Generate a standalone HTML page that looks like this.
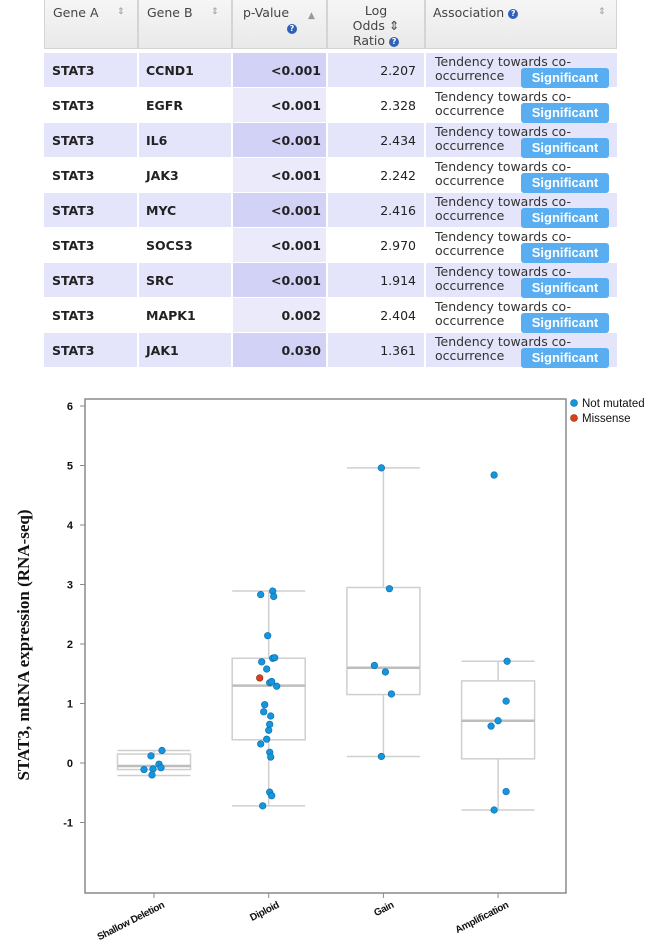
<!DOCTYPE html>
<html><head><meta charset="utf-8"><style>
body{margin:0;width:650px;height:940px;background:#fff;position:relative;overflow:hidden;font-family:"DejaVu Sans",Verdana,sans-serif;}
.c{position:absolute;box-sizing:border-box;font-size:12.5px;color:#222;}
.h{background:linear-gradient(#f6f6f6,#e9e9e9);border:1px solid #d4d4d4;color:#444;font-size:12.5px;}
.q{display:inline-block;width:10px;height:10px;border-radius:50%;background:#3060b8;color:#fff;font-size:8px;line-height:10px;text-align:center;font-weight:bold;vertical-align:middle;}
.s{color:#999;font-size:9px;position:absolute;}
.btn{position:absolute;left:95px;top:15px;width:88px;height:20px;background:#58aef0;border-radius:3px;color:#fff;font-weight:bold;font-size:13px;line-height:20px;text-align:center;font-family:"Liberation Sans",sans-serif;}
</style></head><body>
<div>
<div class="c h" style="left:44px;top:-2px;width:94px;height:51px;padding:6px 0 0 8px">Gene A<span class="s" style="left:72px;top:8px">⇕</span></div>
<div class="c h" style="left:138px;top:-2px;width:94px;height:51px;padding:6px 0 0 8px">Gene B<span class="s" style="left:72px;top:8px">⇕</span></div>
<div class="c h" style="left:232px;top:-2px;width:95px;height:51px;padding:6px 0 0 10px">p-Value<br><span class="q" style="margin-left:44px">?</span><span class="s" style="left:75px;top:12px">▲</span></div>
<div class="c h" style="left:327px;top:-2px;width:98px;height:51px;padding:4px 0 0 0;text-align:center;line-height:15px">Log<br>Odds ⇕<br>Ratio <span class="q">?</span></div>
<div class="c h" style="left:425px;top:-2px;width:192px;height:51px;padding:6px 0 0 7px">Association <span class="q">?</span><span class="s" style="left:172px;top:8px">⇕</span></div>
<div id="rows"></div>
</div>
<svg id="chart" width="650" height="940" style="position:absolute;left:0;top:0" font-family="Liberation Sans, sans-serif"></svg>
<script>
const geneB=["CCND1","EGFR","IL6","JAK3","MYC","SOCS3","SRC","MAPK1","JAK1"];
const pvals=["<0.001","<0.001","<0.001","<0.001","<0.001","<0.001","<0.001","0.002","0.030"];
const lors=["2.207","2.328","2.434","2.242","2.416","2.970","1.914","2.404","1.361"];
const rowsEl=document.getElementById('rows');
geneB.forEach((g,i)=>{
  const top=53+i*35, odd=i%2===0;
  const bg=odd?'#e4e4fa':'#fff', pbg=odd?'#d2d2f6':'#eaeafb';
  const r=document.createElement('div');
  
  
  r.innerHTML=
   `<div class="c" style="left:44px;top:${top}px;width:93px;height:34px;background:${bg};font-weight:bold;padding:10px 0 0 8px">STAT3</div>`+
   `<div class="c" style="left:139px;top:${top}px;width:92px;height:34px;background:${bg};font-weight:bold;padding:10px 0 0 7px">${g}</div>`+
   `<div class="c" style="left:233px;top:${top}px;width:93px;height:34px;background:${pbg};font-weight:bold;padding:10px 5px 0 0;text-align:right">${pvals[i].replace('<','&lt;')}</div>`+
   `<div class="c" style="left:328px;top:${top}px;width:96px;height:34px;background:${bg};padding:10px 8px 0 0;text-align:right">${lors[i]}</div>`+
   `<div class="c" style="left:426px;top:${top}px;width:191px;height:34px;background:${bg};padding:2px 0 0 9px;line-height:14px;color:#333">Tendency towards co-<br>occurrence<span class="btn">Significant</span></div>`;
  rowsEl.appendChild(r);
});

// ---- chart data ----
const categories=["Shallow Deletion","Diploid","Gain","Amplification"];
const whiskerHi=[0.21,2.89,4.96,1.71];
const q3s=[0.15,1.76,2.95,1.38];
const medians=[-0.05,1.30,1.60,0.71];
const q1s=[-0.11,0.39,1.15,0.07];
const whiskerLo=[-0.21,-0.72,0.11,-0.79];
const pointCat=[0,0,0,0,0,0,0, 1,1,1,1,1,1,1,1,1,1,1,1,1,1,1,1,1,1,1,1,1,1,1,1, 2,2,2,2,2,2, 3,3,3,3,3,3,3];
const pointVal=[0.12,0.21,-0.02,-0.11,-0.10,-0.08,-0.20,
 2.89,2.83,2.80,2.14,1.70,1.76,1.77,1.58,1.43,1.35,1.37,1.29,0.98,0.86,0.79,0.65,0.55,0.40,0.32,0.18,0.10,-0.49,-0.55,-0.72,
 4.96,2.93,1.64,1.53,1.16,0.11,
 4.84,1.71,1.04,0.71,0.62,-0.48,-0.79];
const pointJitter=[-3,8,5,-10,-1,7,-2,
 4,-8,5,-1,-7,4,6,-2,-9,1,3,8,-4,-5,2,1,0,-2,-8,1,2,1,3,-6,
 -2,6,-9,2,8,-2,
 -4,9,8,0,-7,8,-4];
const pointType=[0,0,0,0,0,0,0, 0,0,0,0,0,0,0,0,1,0,0,0,0,0,0,0,0,0,0,0,0,0,0,0, 0,0,0,0,0,0, 0,0,0,0,0,0,0];
const yTicks=[-1,0,1,2,3,4,5,6];
const legendLabels=["Not mutated","Missense"];

const NS='http://www.w3.org/2000/svg';
const svg=document.getElementById('chart');
const L=85,R=566,T=399,B=893;
const yS=v=>763-v*59.5;
const xS=i=>154+i*114.7;
function el(tag,attrs,parent){const e=document.createElementNS(NS,tag);for(const k in attrs)e.setAttribute(k,attrs[k]);(parent||svg).appendChild(e);return e;}

const frame=el('rect',{x:L,y:T,width:R-L,height:B-T,fill:'none',stroke:'#8a8a8a','stroke-width':1.5});



yTicks.forEach(v=>{
  el('line',{x1:L-5,x2:L,y1:yS(v),y2:yS(v),stroke:'#8a8a8a'});
  const t=el('text',{x:L-12,y:yS(v)+4,'text-anchor':'end','font-size':11,'font-weight':'bold',fill:'#111'});
  t.textContent=v;
  
  
});
const yt=el('text',{x:0,y:0,transform:'translate(29,645) rotate(-90)','text-anchor':'middle','font-size':17,'font-weight':'bold','font-family':'Liberation Serif, serif',fill:'#111'});
yt.textContent='STAT3, mRNA expression (RNA-seq)';



categories.forEach((c,i)=>{
  const x=xS(i),hw=36.5;
  el('line',{x1:x,x2:x,y1:B,y2:B+5,stroke:'#8a8a8a'});
  const t=el('text',{x:0,y:0,transform:`translate(${x+11},${B+14}) rotate(-27)`,'text-anchor':'end','font-size':10,'font-weight':'bold','letter-spacing':'-0.4',fill:'#111'});
  t.textContent=c;
  
  
  const g=el('g',{});
  
  
  const st={stroke:'#cfcfcf','stroke-width':1.5,fill:'none'};
  el('line',Object.assign({x1:x,x2:x,y1:yS(whiskerHi[i]),y2:yS(q3s[i])},st),g);
  el('line',Object.assign({x1:x,x2:x,y1:yS(q1s[i]),y2:yS(whiskerLo[i])},st),g);
  el('line',Object.assign({x1:x-hw,x2:x+hw,y1:yS(whiskerHi[i]),y2:yS(whiskerHi[i])},st),g);
  el('line',Object.assign({x1:x-hw,x2:x+hw,y1:yS(whiskerLo[i]),y2:yS(whiskerLo[i])},st),g);
  el('rect',Object.assign({x:x-hw,y:yS(q3s[i]),width:hw*2,height:yS(q1s[i])-yS(q3s[i])},st),g);
  el('line',{x1:x-hw,x2:x+hw,y1:yS(medians[i]),y2:yS(medians[i]),stroke:'#bdbdbd','stroke-width':2.5},g);
});

pointVal.forEach((v,k)=>{
  const c=el('circle',{cx:xS(pointCat[k])+pointJitter[k],cy:yS(v),r:3.3,fill:pointType[k]?'#d8401a':'#1496dc',stroke:pointType[k]?'#8a2a10':'#0a6aa8','stroke-width':0.6});
  
  
});

legendLabels.forEach((lab,i)=>{
  const g=el('g',{});
  
  
  el('circle',{cx:574,cy:403+i*15,r:3.5,fill:i?'#d8401a':'#1496dc',stroke:i?'#8a2a10':'#0a6aa8','stroke-width':0.6},g);
  const t=el('text',{x:582,y:407+i*15,'font-size':11.5,fill:'#111'},g);
  t.textContent=lab;
});
</script>
</body></html>
